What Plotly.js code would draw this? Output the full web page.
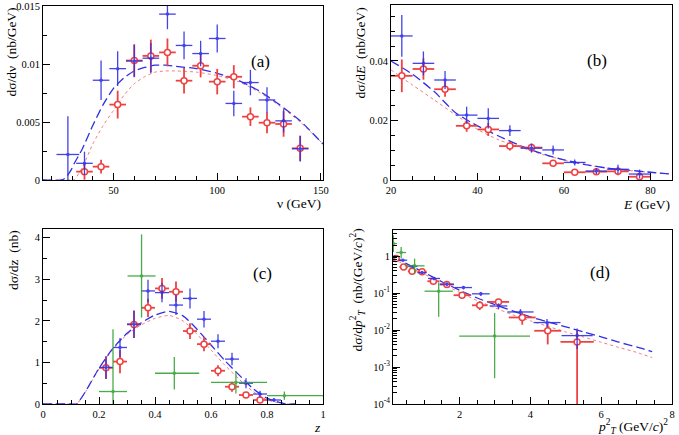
<!DOCTYPE html>
<html>
<head>
<meta charset="utf-8">
<script src="https://cdn.plot.ly/plotly-3.0.1.min.js"></script>
<style>
  html, body { margin: 0; padding: 0; background: #fff; }
  #chart { width: 679px; height: 435px; }
</style>
</head>
<body>
<div id="chart"></div>
<script>
// ---------- (a) d sigma / d nu ----------
const nuBlueX   = [28, 36, 44, 52, 60, 68, 76, 84, 92, 100, 108, 116, 124, 132, 140];
const nuBlue    = [0.0022, 0.00144, 0.0086, 0.0096, 0.01026, 0.0105, 0.0143, 0.0116, 0.0109, 0.0122, 0.0066, 0.0084, 0.0069, 0.0051, 0.0027];
const nuBlueErr = [0.0033, 0.0010, 0.0017, 0.0015, 0.0014, 0.0013, 0.0013, 0.0012, 0.0011, 0.0012, 0.0011, 0.0011, 0.0011, 0.0010, 0.0011];
const nuBlueXErr = [5.5, 4, 4, 4, 4, 4, 4, 4, 4, 4, 4, 4, 4, 4, 4];
const nuRedX    = [36, 44, 52, 60, 68, 76, 84, 92, 100, 108, 116, 124, 132, 140];
const nuRed     = [0.00072, 0.00115, 0.0065, 0.0103, 0.0107, 0.0110, 0.00856, 0.00985, 0.00848, 0.0089, 0.00546, 0.00494, 0.00483, 0.00273];
const nuRedErr  = [0.0007, 0.0006, 0.0012, 0.0014, 0.0014, 0.0012, 0.0011, 0.0010, 0.0011, 0.0010, 0.0008, 0.0009, 0.0011, 0.0011];
const nuRedXErr = [4, 4, 4, 4, 4, 4, 4, 4, 4, 4, 4, 4, 4, 4];
const nuModel     = [16, 25, 27, 30, 31, 35, 40, 45, 50, 55, 60, 65, 70, 75, 80, 90, 100, 110, 120, 130, 140, 151];
const nuModelBlue = [0, 0, 0.0002, 0.001, 0.0014, 0.0027, 0.0047, 0.0065, 0.0079, 0.0088, 0.0094, 0.0097, 0.0099, 0.0099, 0.0098, 0.0096, 0.0092, 0.0086, 0.0077, 0.0065, 0.0051, 0.0031];
const nuModelRed  = [0, 0, 0, 0, 0, 0.0011, 0.0031, 0.0047, 0.0060, 0.0073, 0.0083, 0.0089, 0.0093, 0.0094, 0.0094, 0.0093, 0.0090, 0.0085, 0.0076, 0.0064, 0.0050, 0.0031];

// ---------- (b) d sigma / d E ----------
const eX        = [22.5, 27.5, 32.5, 37.5, 42.5, 47.5, 52.5, 57.5, 62.5, 67.5, 72.5, 77.5];
const eXErr     = [2.5, 2.5, 2.5, 2.5, 2.5, 2.5, 2.5, 2.5, 2.5, 2.5, 2.5, 2.5];
const eBlue     = [0.0484, 0.0392, 0.0336, 0.0218, 0.0207, 0.0166, 0.0107, 0.0101, 0.0059, 0.0030, 0.0036, 0.0020];
const eBlueErr  = [0.007, 0.004, 0.003, 0.0028, 0.0034, 0.0018, 0.0015, 0.0015, 0.0010, 0.0010, 0.0015, 0.0015];
const eRed      = [0.0350, 0.0373, 0.0305, 0.0182, 0.0170, 0.0114, 0.0109, 0.0056, 0.0026, 0.0028, 0.0029, 0.0011];
const eRedErr   = [0.0055, 0.0036, 0.0025, 0.0020, 0.0022, 0.0015, 0.0013, 0.0010, 0.0006, 0.0010, 0.0013, 0.0011];
const eModel     = [20, 25, 30, 35, 40, 45, 50, 55, 60, 65, 70, 75, 80, 85];
const eModelBlue = [0.040, 0.0355, 0.0297, 0.0225, 0.0182, 0.0147, 0.0115, 0.0088, 0.0068, 0.0052, 0.0040, 0.0033, 0.0026, 0.0020];
const eModelRed  = [0.037, 0.0319, 0.0269, 0.0218, 0.0170, 0.0134, 0.0110, 0.0086, 0.0067, 0.0051, 0.0040, 0.0032, 0.0026, 0.0020];

// ---------- (c) d sigma / d z ----------
const zBlueX    = [0.225, 0.275, 0.325, 0.375, 0.425, 0.475, 0.525, 0.575, 0.625, 0.675, 0.725, 0.775, 0.825];
const zBlue     = [0.88, 1.36, 1.92, 2.72, 2.68, 2.38, 2.54, 2.04, 1.51, 1.08, 0.50, 0.24, 0.096];
const zBlueErr  = [0.27, 0.23, 0.33, 0.27, 0.23, 0.24, 0.24, 0.20, 0.17, 0.15, 0.12, 0.08, 0.05];
const zRedX     = [0.225, 0.275, 0.325, 0.375, 0.425, 0.475, 0.525, 0.575, 0.625, 0.675, 0.725, 0.775];
const zRed      = [0.87, 1.02, 1.915, 2.315, 2.78, 2.70, 1.755, 1.44, 0.80, 0.416, 0.216, 0.096];
const zRedErr   = [0.27, 0.28, 0.33, 0.22, 0.25, 0.25, 0.19, 0.17, 0.13, 0.12, 0.07, 0.05];
const zBinHalf  = 0.025;
const zGreenX   = [0.25, 0.352, 0.469, 0.689, 0.862];
const zGreen    = [0.30, 3.08, 0.74, 0.52, 0.20];
const zGreenErr = [1.5, 1.0, 0.39, 0.27, 0.10];
const zGreenXLo = [0.05, 0.05, 0.069, 0.089, 0.062];
const zGreenXHi = [0.05, 0.05, 0.089, 0.111, 0.138];
const zModel     = [0, 0.1, 0.12, 0.15, 0.2, 0.25, 0.3, 0.35, 0.4, 0.45, 0.5, 0.55, 0.6, 0.65, 0.7, 0.75, 0.8, 0.85, 0.87, 0.9];
const zModelBlue = [0, 0, 0, 0.28, 0.86, 1.34, 1.70, 1.95, 2.14, 2.23, 2.12, 1.80, 1.42, 1.04, 0.70, 0.37, 0.14, 0.03, 0, 0];
const zModelRed  = [0, 0, 0, 0.27, 0.85, 1.32, 1.67, 1.90, 2.06, 2.13, 2.00, 1.68, 1.30, 0.93, 0.60, 0.30, 0.10, 0.02, 0, 0];

// ---------- (d) d sigma / d pT^2 ----------
const ptBlueX    = [0.16, 0.40, 0.68, 0.94, 1.28, 1.64, 2.11, 2.6, 3.1, 3.72, 4.47, 5.32];
const ptBlue     = [0.96, 0.78, 0.53, 0.36, 0.25, 0.175, 0.142, 0.096, 0.045, 0.031, 0.016, 0.0071];
const ptBlueErr  = [0.05, 0.04, 0.04, 0.03, 0.025, 0.02, 0.015, 0.012, 0.008, 0.006, 0.004, 0.004];
const ptBlueXErr = [0.08, 0.12, 0.13, 0.13, 0.17, 0.2, 0.24, 0.25, 0.25, 0.37, 0.38, 0.44];
const ptRedX     = [0.21, 0.42, 0.66, 0.94, 1.26, 1.64, 2.07, 2.57, 3.1, 3.77, 4.49, 5.32];
const ptRed      = [0.865, 0.51, 0.39, 0.38, 0.21, 0.171, 0.088, 0.047, 0.058, 0.022, 0.0096, 0.0048];
const ptRedErr   = [0.08, 0.05, 0.05, 0.05, 0.03, 0.025, 0.012, 0.012, 0.012, 0.008, 0.0055, 0.0052];
const ptRedXErr  = [0.1, 0.12, 0.12, 0.13, 0.17, 0.2, 0.24, 0.22, 0.3, 0.38, 0.38, 0.47];
const ptGreenX     = [0.13, 0.35, 0.73, 1.41, 2.99];
const ptGreen      = [2.2, 1.26, 0.55, 0.113, 0.0069];
const ptGreenErrHi = [1.5, 0.52, 0.31, 0.08, 0.022];
const ptGreenErrLo = [0.9, 0.39, 0.21, 0.09, 0.0064];
const ptGreenXErr  = [0.1, 0.14, 0.28, 0.4, 1.0];
const ptModel     = [0.13, 0.5, 1, 1.5, 2, 2.5, 3, 3.5, 4, 4.5, 5, 5.5, 6, 6.5, 7, 7.44];
const ptModelBlue = [0.98, 0.63, 0.363, 0.204, 0.120, 0.074, 0.049, 0.033, 0.0229, 0.0166, 0.0123, 0.0089, 0.0066, 0.0047, 0.0035, 0.0026];
const ptModelRed  = [0.85, 0.56, 0.33, 0.182, 0.105, 0.063, 0.040, 0.026, 0.0178, 0.0126, 0.0089, 0.0065, 0.0047, 0.0034, 0.0025, 0.0018];

// ---------- styling ----------
const FONT  = 'Times New Roman, Times, Liberation Serif, DejaVu Serif, serif';
const BLUE  = '#2f2fe6';
const RED   = '#ee4242';
const GREEN = '#36a336';

function points(x, y, eyHi, eyLo, exHi, exLo, color, kind, xa, ya) {
  const open = kind === 'open';
  return {
    type: 'scatter', mode: 'markers', x: x, y: y, xaxis: xa, yaxis: ya,
    hoverinfo: 'skip', opacity: open ? 1 : 0.9,
    marker: open
      ? { symbol: 'circle', size: 6, color: '#ffffff', line: { color: color, width: 1.5 } }
      : { symbol: 'circle', size: 3.5, color: color, line: { width: 0 } },
    error_y: { type: 'data', symmetric: false, array: eyHi, arrayminus: eyLo, color: color,
               thickness: open ? 1.8 : 1.3, width: 0, visible: true },
    error_x: { type: 'data', symmetric: false, array: exHi, arrayminus: exLo, color: color,
               thickness: open ? 1.8 : 1.3, width: 0, visible: true }
  };
}
function curve(x, y, color, dash, width, xa, ya) {
  return { type: 'scatter', mode: 'lines', x: x, y: y, xaxis: xa, yaxis: ya, hoverinfo: 'skip',
           line: { color: color, dash: dash, width: width, shape: 'spline', smoothing: 0.6 } };
}
const fill = (arr, v) => arr.map(() => v);

const BLUE_DASH = '9px,4px';
const RED_DOT = 'rgba(240,100,100,0.85)';

const traces = [
  // (a)
  curve(nuModel, nuModelRed, RED_DOT, 'dot', 1, 'x', 'y'),
  curve(nuModel, nuModelBlue, BLUE, BLUE_DASH, 1.3, 'x', 'y'),
  points(nuRedX, nuRed, nuRedErr, nuRedErr, nuRedXErr, nuRedXErr, RED, 'open', 'x', 'y'),
  points(nuBlueX, nuBlue, nuBlueErr, nuBlueErr, nuBlueXErr, nuBlueXErr, BLUE, 'dot', 'x', 'y'),
  // (b)
  curve(eModel, eModelRed, RED_DOT, 'dot', 1, 'x2', 'y2'),
  curve(eModel, eModelBlue, BLUE, BLUE_DASH, 1.3, 'x2', 'y2'),
  points(eX, eRed, eRedErr, eRedErr, eXErr, eXErr, RED, 'open', 'x2', 'y2'),
  points(eX, eBlue, eBlueErr, eBlueErr, eXErr, eXErr, BLUE, 'dot', 'x2', 'y2'),
  // (c)
  curve(zModel, zModelRed, RED_DOT, 'dot', 1, 'x3', 'y3'),
  curve(zModel, zModelBlue, BLUE, BLUE_DASH, 1.3, 'x3', 'y3'),
  points(zRedX, zRed, zRedErr, zRedErr, fill(zRedX, zBinHalf), fill(zRedX, zBinHalf), RED, 'open', 'x3', 'y3'),
  points(zBlueX, zBlue, zBlueErr, zBlueErr, fill(zBlueX, zBinHalf), fill(zBlueX, zBinHalf), BLUE, 'dot', 'x3', 'y3'),
  points(zGreenX, zGreen, zGreenErr, zGreenErr, zGreenXHi, zGreenXLo, GREEN, 'dot', 'x3', 'y3'),
  // (d)
  curve(ptModel, ptModelRed, RED_DOT, 'dot', 1, 'x4', 'y4'),
  curve(ptModel, ptModelBlue, BLUE, BLUE_DASH, 1.3, 'x4', 'y4'),
  points(ptRedX, ptRed, ptRedErr, ptRedErr, ptRedXErr, ptRedXErr, RED, 'open', 'x4', 'y4'),
  points(ptBlueX, ptBlue, ptBlueErr, ptBlueErr, ptBlueXErr, ptBlueXErr, BLUE, 'dot', 'x4', 'y4'),
  points(ptGreenX, ptGreen, ptGreenErrHi, ptGreenErrLo, ptGreenXErr, ptGreenXErr, GREEN, 'dot', 'x4', 'y4')
];

// ---------- axes ----------
const W = 679, H = 435;
const px = v => v / W;
const py = v => 1 - v / H;

function axis(extra) {
  return Object.assign({
    showline: true, mirror: true, linecolor: '#000', linewidth: 1,
    ticks: 'inside', ticklen: 7, tickwidth: 1, tickcolor: '#000',
    showgrid: false, zeroline: false, fixedrange: true,
    tickfont: { family: FONT, size: 10.5, color: '#000' },
    minor: { ticks: 'inside', ticklen: 4, tickwidth: 1, tickcolor: '#000', showgrid: false }
  }, extra);
}

const logMinor = [];
for (let d = -4; d <= 0; d++) for (let m = 2; m <= 9; m++) logMinor.push(m * Math.pow(10, d));

const layout = {
  width: W, height: H,
  margin: { l: 0, r: 0, t: 0, b: 0 },
  paper_bgcolor: '#fff', plot_bgcolor: '#fff',
  showlegend: false,
  font: { family: FONT, color: '#000' },

  xaxis:  axis({ domain: [px(43), px(323)], anchor: 'y', range: [16, 151],
                 tickvals: [50, 100, 150], minor: { ticks: 'inside', ticklen: 4, tickcolor: '#000', dtick: 10, tick0: 0 } }),
  yaxis:  axis({ domain: [py(180), py(6)], anchor: 'x', range: [0, 0.015],
                 tickvals: [0, 0.005, 0.01, 0.015], ticktext: ['0', '0.005', '0.01', '0.015'],
                 minor: { ticks: 'inside', ticklen: 4, tickcolor: '#000', dtick: 0.0025, tick0: 0 } }),

  xaxis2: axis({ domain: [px(391), px(672)], anchor: 'y2', range: [20, 85],
                 tickvals: [20, 40, 60, 80], minor: { ticks: 'inside', ticklen: 4, tickcolor: '#000', dtick: 5, tick0: 0 } }),
  yaxis2: axis({ domain: [py(180), py(5)], anchor: 'x2', range: [0, 0.0588],
                 tickvals: [0, 0.02, 0.04], ticktext: ['0', '0.02', '0.04'],
                 minor: { ticks: 'inside', ticklen: 4, tickcolor: '#000', dtick: 0.005, tick0: 0 } }),

  xaxis3: axis({ domain: [px(43), px(323)], anchor: 'y3', range: [0, 1],
                 tickvals: [0, 0.2, 0.4, 0.6, 0.8, 1], ticktext: ['0', '0.2', '0.4', '0.6', '0.8', '1'],
                 minor: { ticks: 'inside', ticklen: 4, tickcolor: '#000', dtick: 0.05, tick0: 0 } }),
  yaxis3: axis({ domain: [py(404), py(229)], anchor: 'x3', range: [0, 4.21],
                 tickvals: [0, 1, 2, 3, 4],
                 minor: { ticks: 'inside', ticklen: 4, tickcolor: '#000', dtick: 0.5, tick0: 0 } }),

  xaxis4: axis({ domain: [px(393), px(672)], anchor: 'y4', range: [0.12, 8],
                 tickvals: [2, 4, 6, 8], minor: { ticks: 'inside', ticklen: 4, tickcolor: '#000', dtick: 0.5, tick0: 0 } }),
  yaxis4: axis({ domain: [py(404), py(230)], anchor: 'x4', type: 'log', range: [-4, 0.71],
                 tickvals: [1e-4, 1e-3, 1e-2, 1e-1, 1],
                 ticktext: ['10<sup>-4</sup>', '10<sup>-3</sup>', '10<sup>-2</sup>', '10<sup>-1</sup>', '1'],
                 minor: { ticks: 'inside', ticklen: 4, tickcolor: '#000', tickmode: 'array', tickvals: logMinor } }),

  annotations: [
    // axis titles
    { text: 'dσ/dν\u00a0\u00a0(nb/GeV)', textangle: -90, xref: 'paper', yref: 'paper',
      x: px(11), y: py(6), xanchor: 'center', yanchor: 'top', showarrow: false, font: { size: 13.5 } },
    { text: 'ν (GeV)', xref: 'paper', yref: 'paper', x: px(323), y: py(203),
      xanchor: 'right', yanchor: 'middle', showarrow: false, font: { size: 13.5 } },

    { text: 'dσ/d<i>E</i>\u00a0\u00a0(nb/GeV)', textangle: -90, xref: 'paper', yref: 'paper',
      x: px(360), y: py(6), xanchor: 'center', yanchor: 'top', showarrow: false, font: { size: 13.5 } },
    { text: '<i>E</i> (GeV)', xref: 'paper', yref: 'paper', x: px(672), y: py(204),
      xanchor: 'right', yanchor: 'middle', showarrow: false, font: { size: 13.5 } },

    { text: 'dσ/dz\u00a0\u00a0(nb)', textangle: -90, xref: 'paper', yref: 'paper',
      x: px(13), y: py(228), xanchor: 'center', yanchor: 'top', showarrow: false, font: { size: 13.5 } },
    { text: '<i>z</i>', xref: 'paper', yref: 'paper', x: px(323), y: py(427),
      xanchor: 'right', yanchor: 'middle', showarrow: false, font: { size: 13.5 } },

    { text: 'dσ/d<i>p</i><sup>2</sup><sub><i>T</i></sub>\u00a0\u00a0(nb/(GeV/<i>c</i>)<sup>2</sup>)', textangle: -90,
      xref: 'paper', yref: 'paper', x: px(358), y: py(227), xanchor: 'center', yanchor: 'top',
      showarrow: false, font: { size: 13.5 } },
    { text: '<i>p</i><sup>2</sup><sub><i>T</i></sub> (GeV/<i>c</i>)<sup>2</sup>', xref: 'paper', yref: 'paper',
      x: px(670), y: py(426), xanchor: 'right', yanchor: 'middle', showarrow: false, font: { size: 13.5 } },

    // panel labels
    { text: '(a)', xref: 'paper', yref: 'paper', x: px(260), y: py(50), showarrow: false, font: { size: 17 } },
    { text: '(b)', xref: 'paper', yref: 'paper', x: px(609), y: py(49), showarrow: false, font: { size: 17 } },
    { text: '(c)', xref: 'paper', yref: 'paper', x: px(262), y: py(273), showarrow: false, font: { size: 17 } },
    { text: '(d)', xref: 'paper', yref: 'paper', x: px(612), y: py(272), showarrow: false, font: { size: 17 } }
  ]
};

Plotly.newPlot('chart', traces, layout, { staticPlot: true, displayModeBar: false });
</script>
</body>
</html>
